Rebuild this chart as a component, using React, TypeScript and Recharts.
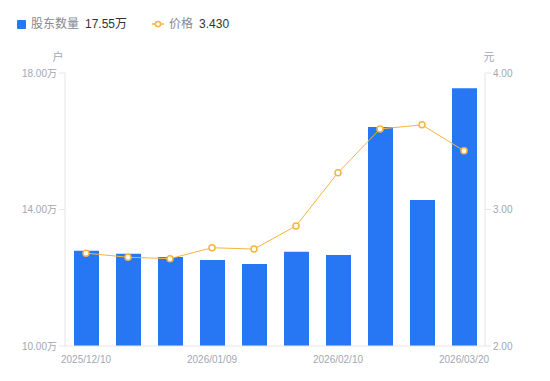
import { ComposedChart, Bar, Line, XAxis, YAxis } from "recharts";

const dates = [
  "2025/12/10",
  "2025/12/20",
  "2025/12/31",
  "2026/01/09",
  "2026/01/20",
  "2026/01/30",
  "2026/02/10",
  "2026/02/27",
  "2026/03/10",
  "2026/03/20",
];

// 股东数量 (万户)
const holders = [12.79, 12.7, 12.61, 12.52, 12.4, 12.76, 12.67, 16.42, 14.28, 17.55];

// 价格 (元)
const prices = [2.68, 2.65, 2.64, 2.72, 2.71, 2.88, 3.27, 3.59, 3.62, 3.43];

const leftTicks = [10, 14, 18];
const rightTicks = [2, 3, 4];

const BLUE = "#2777f5";
const ORANGE = "#f5b53f";
const AXIS = "#e6e6e6";
const TICK = "#a3a7b3";
const FONT = '"Liberation Sans", "Noto Sans CJK SC", sans-serif';

const data = dates.map((d, i) => ({ date: d, holders: holders[i], price: prices[i] }));

function AxisTitle({ viewBox, value, side }: any) {
  const x = side === "left" ? viewBox.x + viewBox.width - 7 : viewBox.x + 4;
  return (
    <text
      x={x}
      y={viewBox.y - 12}
      fill={TICK}
      fontSize={11}
      fontFamily={FONT}
      textAnchor="middle"
    >
      {value}
    </text>
  );
}

export default function App() {
  return (
    <div style={{ position: "absolute", left: 0, top: 0, width: 550, height: 381, fontFamily: FONT }}>
      <div
        style={{
          position: "absolute",
          left: 17,
          top: 16,
          display: "flex",
          alignItems: "center",
          fontSize: 12,
          lineHeight: "16px",
        }}
      >
        <span style={{ width: 9, height: 9, background: BLUE, borderRadius: 1, marginRight: 5 }} />
        <span style={{ color: "#858995" }}>股东数量</span>
        <span style={{ color: "#333", marginLeft: 6 }}>17.55万</span>
        <svg width={12} height={8} style={{ marginLeft: 25, marginRight: 5 }}>
          <line x1={0} y1={4} x2={12} y2={4} stroke={ORANGE} strokeWidth={1.5} />
          <circle cx={6} cy={4} r={2.6} fill="#fff" stroke={ORANGE} strokeWidth={1.5} />
        </svg>
        <span style={{ color: "#858995" }}>价格</span>
        <span style={{ color: "#333", marginLeft: 6 }}>3.430</span>
      </div>
      <ComposedChart
        width={550}
        height={381}
        data={data}
        margin={{ top: 73, right: 0, bottom: 0, left: 0 }}
        barCategoryGap={0}
      >
        <XAxis
          dataKey="date"
          interval={2}
          height={35}
          tickLine={false}
          axisLine={{ stroke: AXIS }}
          tick={{ fill: TICK, fontSize: 10, fontFamily: FONT }}
          tickMargin={4}
        />
        <YAxis
          yAxisId="left"
          orientation="left"
          width={65}
          domain={[10, 18]}
          ticks={leftTicks}
          tickFormatter={(v: number) => `${v.toFixed(2)}万`}
          axisLine={{ stroke: AXIS }}
          tickLine={{ stroke: AXIS }}
          tick={{ fill: TICK, fontSize: 10, fontFamily: FONT }}
          label={(p: any) => <AxisTitle {...p} value="户" side="left" />}
        />
        <YAxis
          yAxisId="right"
          orientation="right"
          width={65}
          domain={[2, 4]}
          ticks={rightTicks}
          tickFormatter={(v: number) => v.toFixed(2)}
          axisLine={{ stroke: AXIS }}
          tickLine={{ stroke: AXIS }}
          tick={{ fill: TICK, fontSize: 10, fontFamily: FONT }}
          label={(p: any) => <AxisTitle {...p} value="元" side="right" />}
        />
        <Bar yAxisId="left" dataKey="holders" fill={BLUE} barSize={25} isAnimationActive={false} />
        <Line
          yAxisId="right"
          dataKey="price"
          type="linear"
          stroke={ORANGE}
          strokeWidth={1}
          dot={{ r: 3, fill: "#fff", stroke: ORANGE, strokeWidth: 1.5 }}
          isAnimationActive={false}
        />
      </ComposedChart>
    </div>
  );
}
